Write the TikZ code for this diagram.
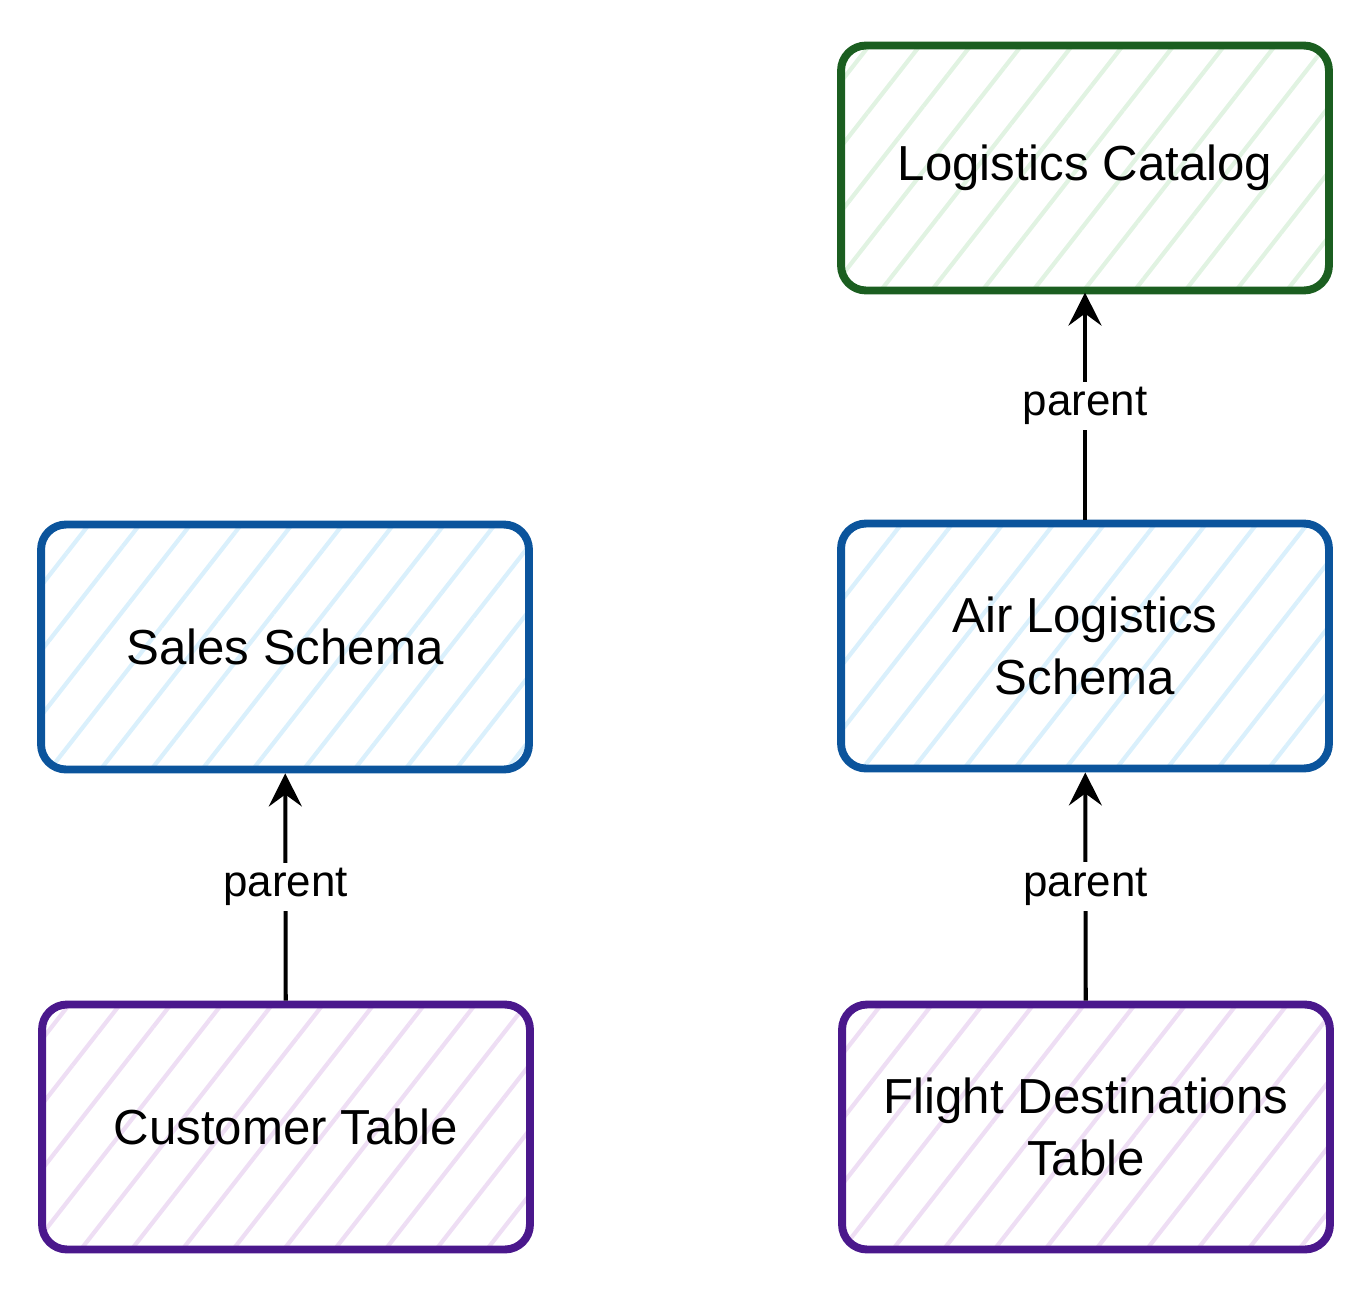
\documentclass[tikz,border=0pt]{standalone}
\usepackage{fontspec}
\setmainfont{Liberation Sans}
\usetikzlibrary{arrows.meta,patterns.meta}
\definecolor{catline}{RGB}{27,94,32}
\definecolor{catfill}{RGB}{225,243,226}
\definecolor{schline}{RGB}{11,84,156}
\definecolor{schfill}{RGB}{218,240,252}
\definecolor{tabline}{RGB}{74,24,140}
\definecolor{tabfill}{RGB}{238,222,244}
\tikzset{
  box/.style={draw,line width=4.5pt,rounded corners=0.5cm,minimum width=9.76cm,minimum height=4.9cm,
    align=center,font=\fontsize{28}{35}\selectfont,
    pattern={Lines[angle=52,distance=0.8cm,line width=2.4pt]}},
  catbox/.style={box,draw=catline,pattern color=catfill},
  schbox/.style={box,draw=schline,pattern color=schfill},
  tabbox/.style={box,draw=tabline,pattern color=tabfill},
  arr/.style={line width=2.3pt,-{Stealth[length=0.66cm,width=0.66cm,inset=0.24cm]}},
  lbl/.style={fill=white,inner sep=3pt,font=\fontsize{25}{30}\selectfont}
}
\begin{document}
\begin{tikzpicture}[x=0.02cm,y=-0.02cm]
\useasboundingbox (0,0) rectangle (1368,1288);
\coordinate (CAT) at (1085,168);
\coordinate (AIR) at (1085,646);
\coordinate (SAL) at (285,647);
\coordinate (CUS) at (286,1127);
\coordinate (FLI) at (1086,1127);
\node[catbox] (cat) at (CAT){Logistics Catalog};
\node[schbox] (air) at (AIR){Air Logistics\\Schema};
\node[schbox] (sal) at (SAL){Sales Schema};
\node[tabbox] (cus) at (CUS){Customer Table};
\node[tabbox] (fli) at (FLI){Flight Destinations\\Table};
\draw[arr] (cus) -- node[lbl]{parent} (sal);
\draw[arr] (fli) -- node[lbl]{parent} (air);
\draw[arr] (air) -- node[lbl]{parent} (cat);
\end{tikzpicture}
\end{document}
